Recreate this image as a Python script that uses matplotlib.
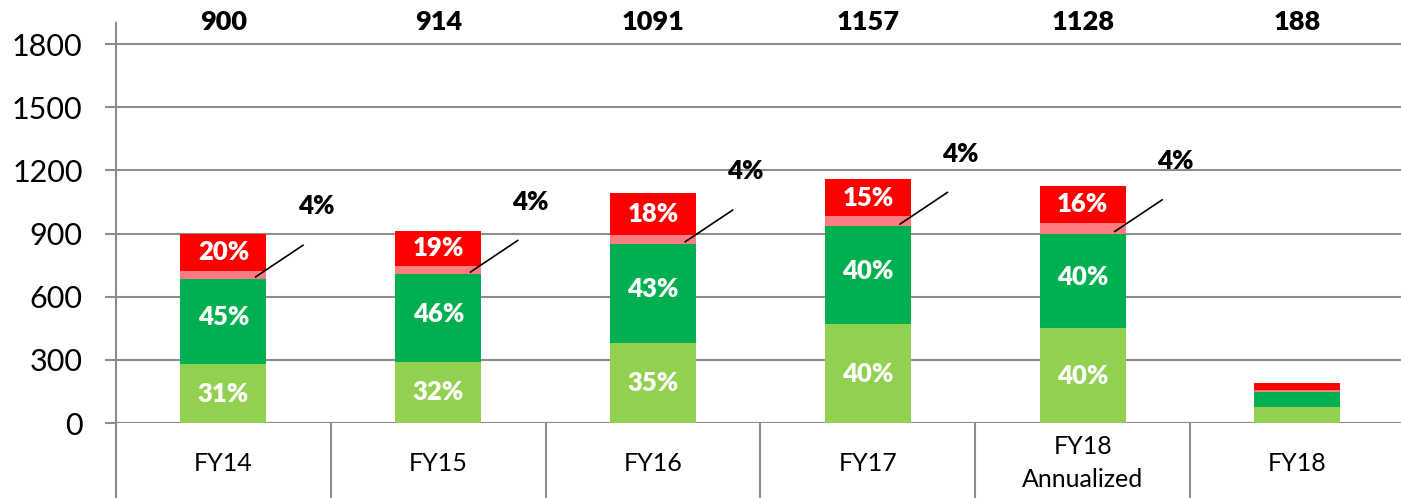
import numpy as np
import matplotlib.pyplot as plt
from matplotlib.transforms import blended_transform_factory

plt.rcParams['font.family'] = ['Lato', 'DejaVu Sans']

# data
years = ["FY14", "FY15", "FY16", "FY17", "FY18\nAnnualized", "FY18"]
totals = [900, 914, 1091, 1157, 1128, 188]
light_green = [279, 291, 382, 470, 451, 76]
dark_green = [405, 416, 469, 465, 449, 71]
pink = [36, 38, 44, 48, 50, 8]
red = [180, 169, 196, 174, 178, 33]
pct_light = ["31%", "32%", "35%", "40%", "40%", ""]
pct_dark = ["45%", "46%", "43%", "40%", "40%", ""]
pct_pink = ["4%", "4%", "4%", "4%", "4%", ""]
pct_red = ["20%", "19%", "18%", "15%", "16%", ""]

gray = "#8c8c8c"
W, H = 1401, 498
fig = plt.figure(figsize=(W / 100, H / 100), dpi=100)
ax = fig.add_axes([116 / W, 75 / H, (W - 116) / W, 400 / H])

x = np.arange(len(years))
bw = 0.40
b1 = np.array(light_green)
b2 = b1 + np.array(dark_green)
b3 = b2 + np.array(pink)
ax.bar(x, light_green, bw, color="#92D050", zorder=3)
ax.bar(x, dark_green, bw, bottom=b1, color="#00B050", zorder=3)
ax.bar(x, pink, bw, bottom=b2, color="#FF7C80", zorder=3)
ax.bar(x, red, bw, bottom=b3, color="#FF0000", zorder=3)

ax.set_xlim(-0.5, 5.482)
ax.set_ylim(0, 1900)
ax.set_yticks(range(0, 1801, 300))
ax.set_xticks([])
ax.grid(axis="y", color=gray, lw=1.5, zorder=0)
for s in ["top", "right", "bottom"]:
    ax.spines[s].set_visible(False)
ax.spines["left"].set_color(gray)
ax.spines["left"].set_linewidth(1.5)
ax.tick_params(axis="y", length=8, width=1.5, color=gray, pad=16, labelsize=22)

# in-bar percentage labels
for i in x:
    lab = dict(ha="center", va="center", color="white", fontsize=18.5, fontweight="heavy", zorder=4)
    if pct_light[i]:
        ax.text(i, light_green[i] / 2, pct_light[i], **lab)
        ax.text(i, b1[i] + dark_green[i] / 2 + 20, pct_dark[i], **lab)
        ax.text(i, b3[i] + red[i] / 2, pct_red[i], **lab)
        # leader line for the small pink slice
        ax.plot([i + 0.15, i + 0.37], [b2[i] + 10, b2[i] + 160], color="black", lw=1.2, zorder=5)
        ax.text(i + 0.43, b2[i] + 345, pct_pink[i], ha="center", va="center",
                fontsize=18.5, fontweight="heavy", color="black")
    ax.text(i, 1904, str(totals[i]), ha="center", va="center", fontsize=19.5,
            fontweight="heavy", clip_on=False)

# category table below the axis
trans = blended_transform_factory(ax.transData, ax.transAxes)
ax.axhline(0, color=gray, lw=1.5, zorder=2)
for k in range(len(years)):
    ax.plot([k - 0.5, k - 0.5], [0, -0.2], color=gray, lw=1.5, transform=trans, clip_on=False)
    ax.text(k, -0.1, years[k], ha="center", va="center", fontsize=18,
            transform=trans, linespacing=1.5)
ax.plot([-0.5, -0.5], [0, -0.2], color=gray, lw=1.5, transform=trans, clip_on=False)

fig.savefig("out.png", dpi=100)
